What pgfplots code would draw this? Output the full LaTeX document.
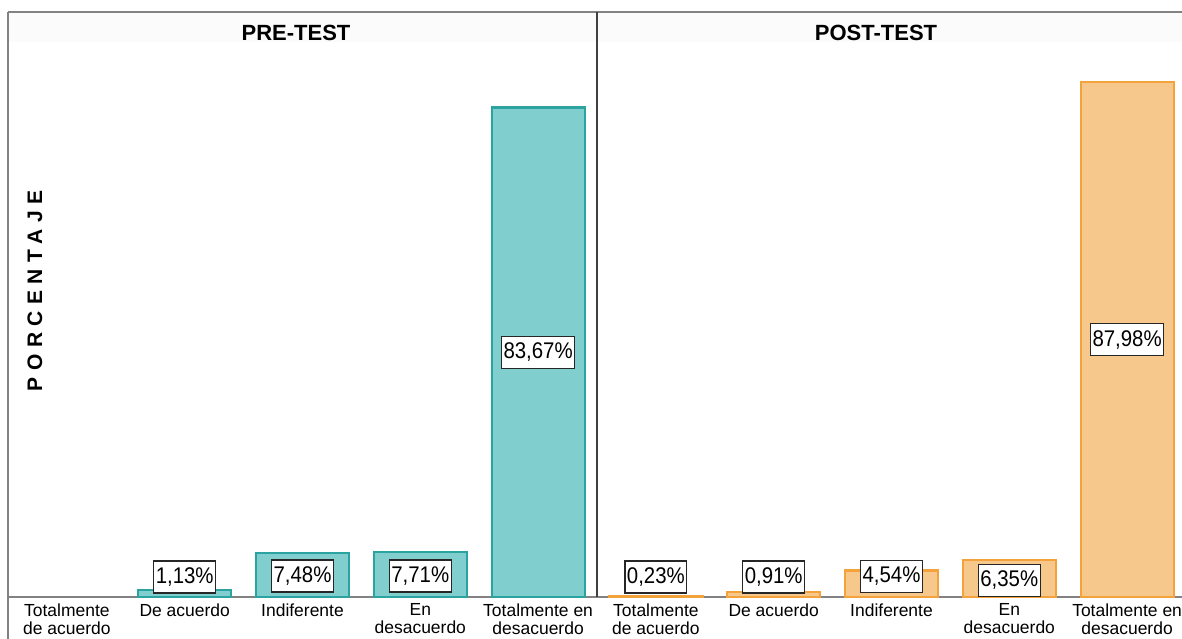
\documentclass[border=0pt]{standalone}
\usepackage{fontspec}
\setmainfont{Liberation Sans}
\newfontfamily\narrowfont[FakeStretch=0.9]{Liberation Sans}
\newfontfamily\spacedfont[LetterSpace=31]{Liberation Sans}
\usepackage{pgfplots}
\usepackage{pgfplotstable}
\pgfplotsset{compat=1.18}

\definecolor{tealfill}{RGB}{128,206,205}
\definecolor{tealedge}{RGB}{42,163,161}
\definecolor{orgfill}{RGB}{246,200,139}
\definecolor{orgedge}{RGB}{243,162,60}
\definecolor{framegray}{RGB}{130,130,130}

% x: category index, v: percentage, ly: height of the value box centre
\pgfplotstableread{
x v ly
1 1.13 3.42
2 7.48 3.59
3 7.71 3.59
4 83.67 41.8
}\pretest
\pgfplotstableread{
x v ly
0 0.23 3.42
1 0.91 3.42
2 4.54 3.50
3 6.35 2.82
4 87.98 44.0
}\posttest

\pgfplotsset{
  panel/.style={
    scale only axis, width=441.75pt, height=438.75pt,
    xmin=-0.5, xmax=4.5, ymin=0, ymax=100,
    axis line style={draw=none},
    ytick=\empty, xtick={0,1,2,3,4}, major tick length=0pt,
    xticklabels={Totalmente\\de acuerdo, De acuerdo, Indiferente, En\\desacuerdo, Totalmente en\\desacuerdo},
    xticklabel style={align=center, anchor=north, inner sep=0pt, yshift=-5pt,
      font=\fontsize{13.1}{13.5}\selectfont},
    clip=false,
    /pgf/number format/use comma,
    /pgf/number format/fixed,
    /pgf/number format/fixed zerofill,
    /pgf/number format/precision=2,
    /pgf/number format/assume math mode=true,
  },
  valuebox/.style={
    nodes near coords={\pgfmathprintnumber{\pgfplotspointmeta}\%},
    point meta=explicit,
    nodes near coords style={anchor=center, fill=white, draw=black!85, line width=0.9pt,
      inner xsep=1.5pt, inner ysep=0pt, minimum height=24pt,
      font=\narrowfont\fontsize{17}{18}\selectfont},
  },
}

\begin{document}
\begin{tikzpicture}[x=0.75pt, y=0.75pt]
\useasboundingbox (0,0) rectangle (1182,639);
% title strip
\fill[black!1.5] (8,627) rectangle (1182,597);
% baseline under the bars
\draw[framegray, line width=1.3pt] (8,42) -- (1182,42);

\begin{axis}[panel, at={(6pt,31.5pt)}, anchor=south west]
  \addplot[ybar, bar width=0.79, fill=tealfill, draw=tealedge, line width=1.6pt]
    table[x=x, y=v] {\pretest};
  \addplot[draw=none, mark=none, valuebox] table[x=x, y=ly, meta=v] {\pretest};
\end{axis}

\begin{axis}[panel, at={(447.75pt,31.5pt)}, anchor=south west]
  \addplot[ybar, bar width=0.79, fill=orgfill, draw=orgedge, line width=1.6pt]
    table[x=x, y=v] {\posttest};
  \addplot[draw=none, mark=none, valuebox] table[x=x, y=ly, meta=v] {\posttest};
\end{axis}

% frame
\draw[framegray, line width=1.2pt] (8,627) -- (1182,627);
\draw[framegray, line width=1.2pt] (8,627) -- (8,0);
\draw[black!75, line width=0.8pt] (597,627) -- (597,42);

% panel titles and axis title
\node[font=\bfseries\fontsize{16.5}{18}\selectfont] at (296,606) {PRE-TEST};
\node[font=\bfseries\fontsize{16.5}{18}\selectfont] at (876,606) {POST-TEST};
\node[rotate=90, font=\spacedfont\bfseries\fontsize{15.75}{18}\selectfont] at (35,348) {PORCENTAJE};
\end{tikzpicture}
\end{document}
